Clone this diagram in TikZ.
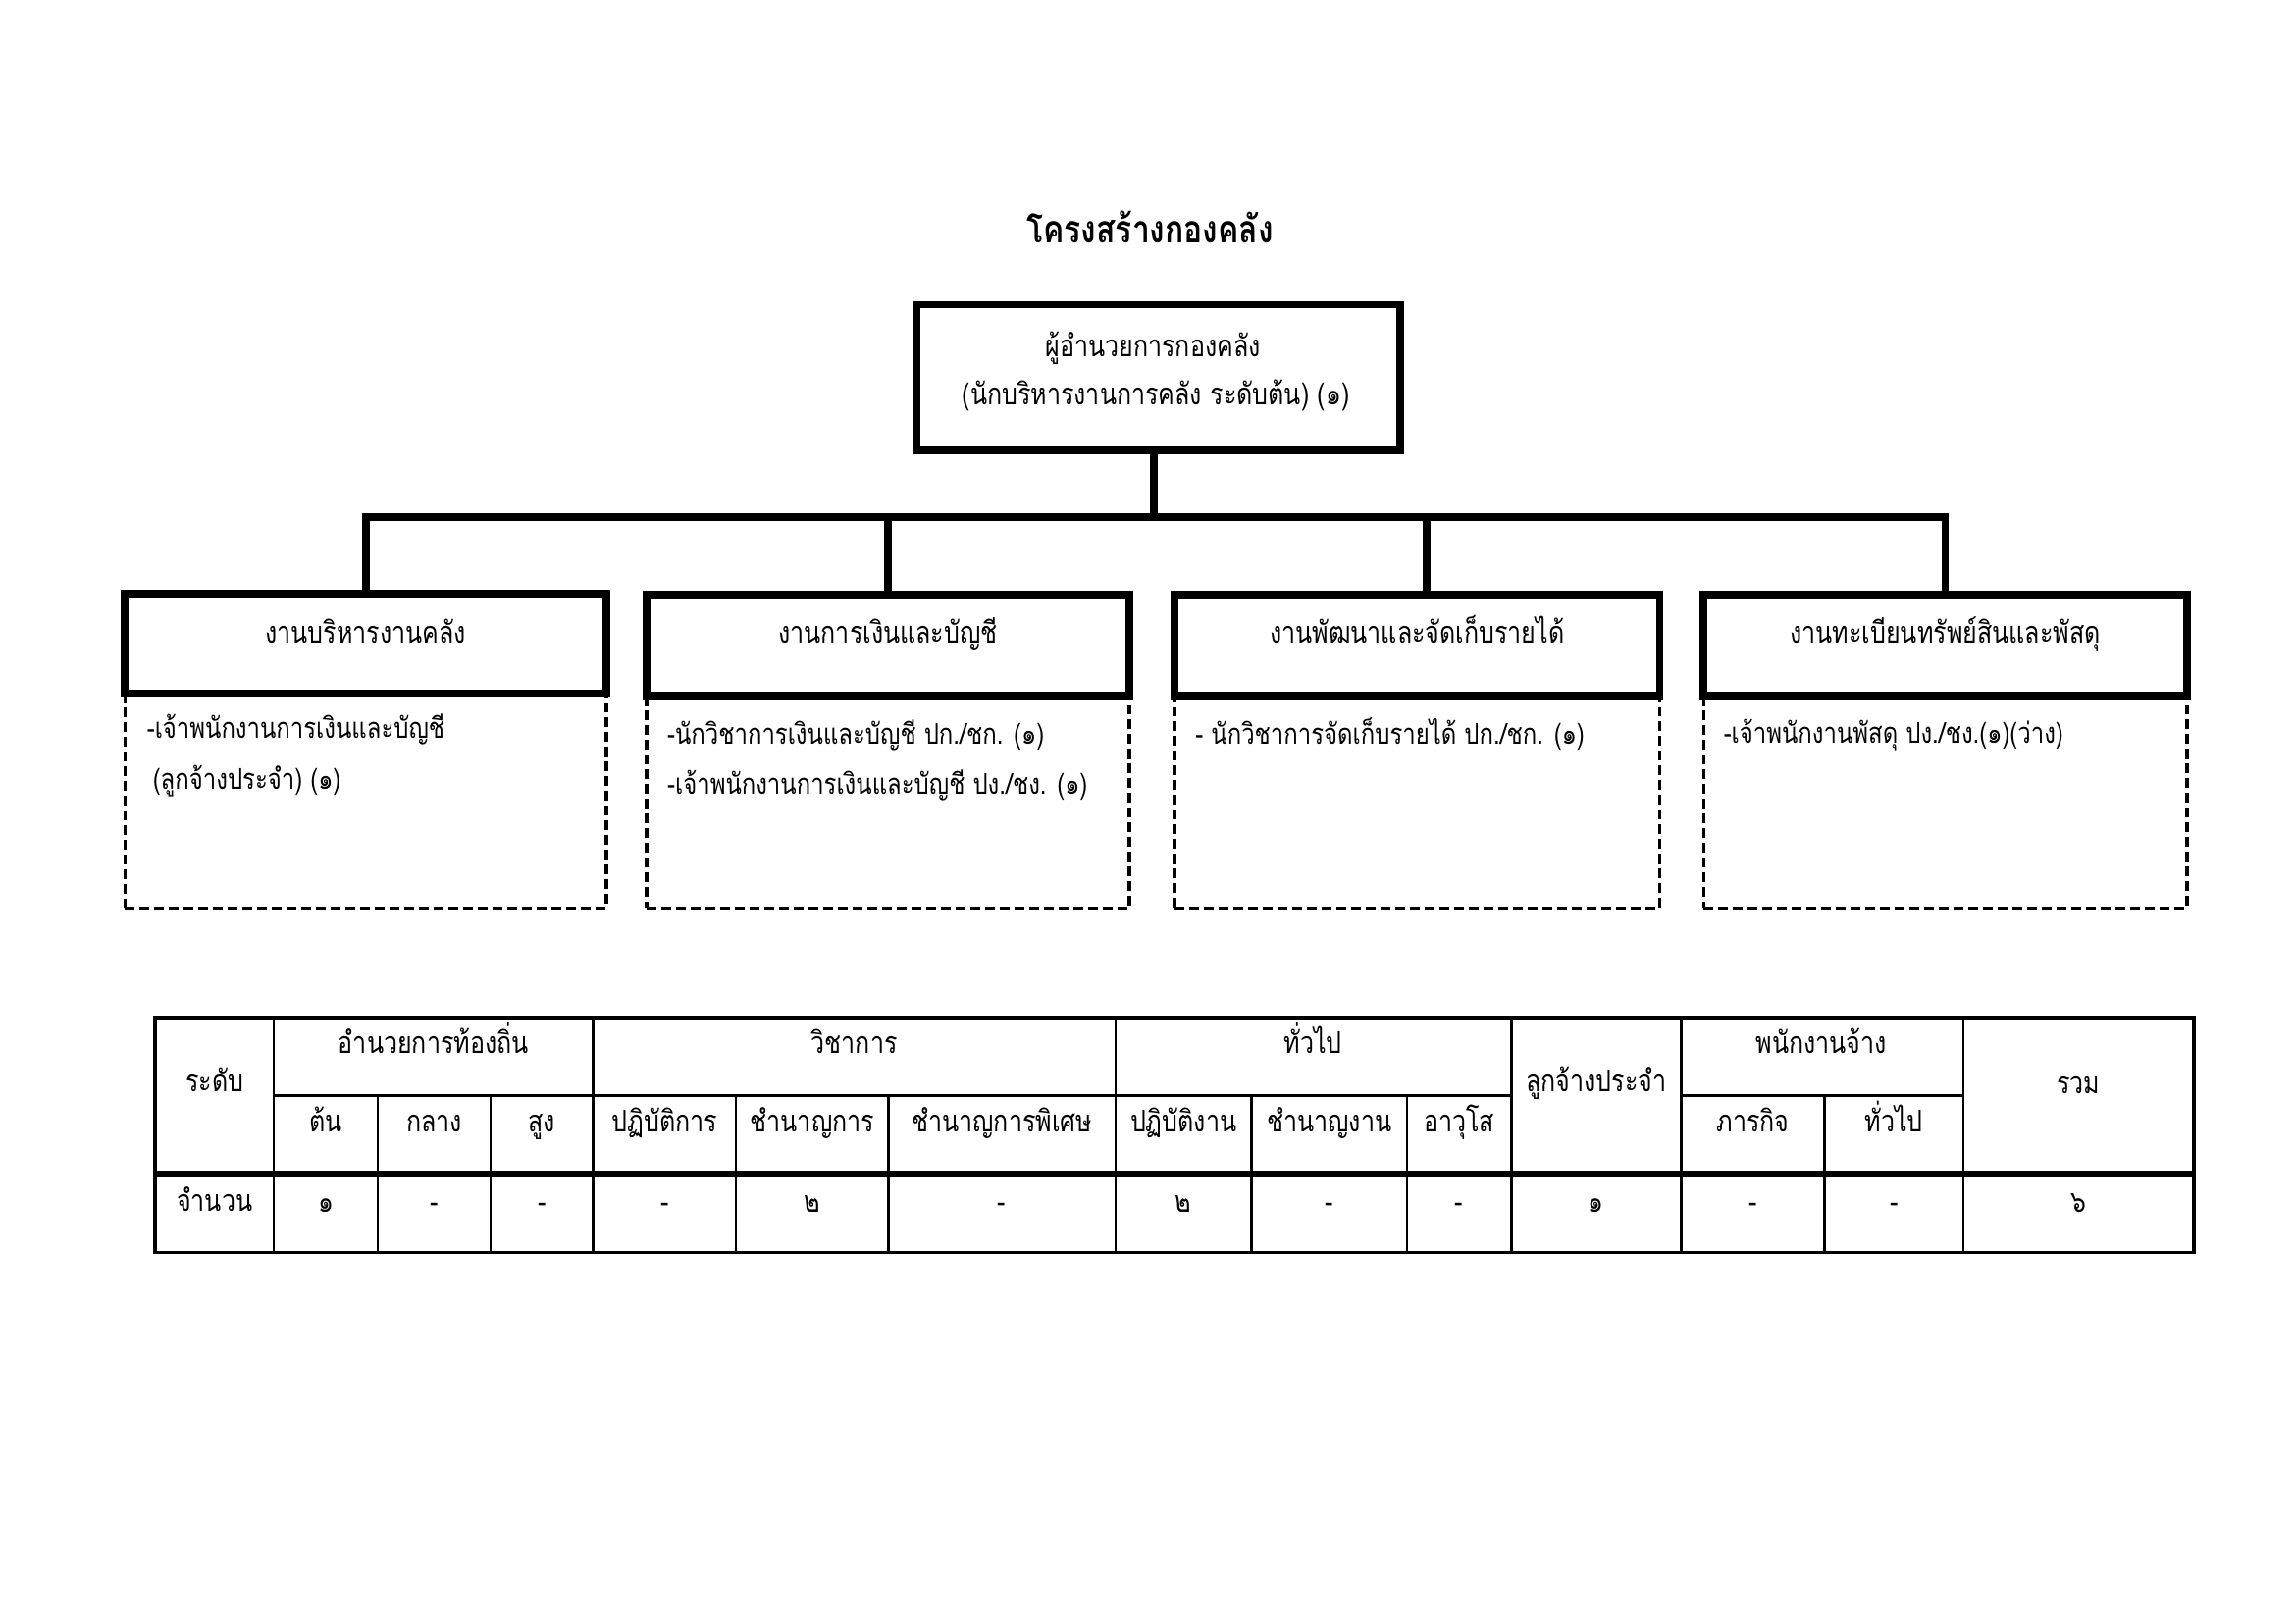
\documentclass[tikz,border=0pt]{standalone}
\usepackage{fontspec}
\newfontfamily\thaifont[Script=Thai,FakeStretch=0.82]{Loma}
\begin{document}
\begin{tikzpicture}[x=0.3582pt,y=-0.3582pt,
  txt/.style={font=\thaifont\fontsize{10.5}{12}\selectfont, inner sep=0pt},
  txtb/.style={font=\thaifont\fontsize{11}{13}\selectfont, inner sep=0pt},
  ttl/.style={font=\thaifont\bfseries\fontsize{14}{16}\selectfont, inner sep=0pt},
  solidbox/.style={draw, line width=2.8pt, fill=white, inner sep=0pt},
  dashbox/.style={draw, line width=1.3pt, dash pattern=on 3.6pt off 1.8pt, inner sep=0pt},
  conn/.style={line width=2.8pt, line join=miter},
  tline/.style={line width=0.9pt},
  tthick/.style={line width=1.9pt}]
\fill[white] (0pt,0pt) rectangle (842.04pt,-595.44pt);
\useasboundingbox (0pt,0pt) rectangle (842.04pt,-595.44pt);

% title
\node[ttl, anchor=mid] (title) at (1178,243) {โครงสร้างกองคลัง};

% top box
\node[solidbox, minimum width=177.3pt, minimum height=53.3pt] (top) at (1186.5,386.5) {};
\node[txtb, anchor=mid] (topl1) at (1181,359) {ผู้อำนวยการกองคลัง};
\node[txtb, anchor=mid] (topl2) at (1184,409) {(นักบริหารงานการคลัง ระดับต้น) (๑)};

% dashed boxes
\node[dashbox, minimum width=176.6pt, minimum height=78.8pt] (d1) at (374.5,820) {};
\node[dashbox, minimum width=177.3pt, minimum height=77.7pt] (d2) at (909.5,821.5) {};
\node[dashbox, minimum width=178.0pt, minimum height=77.7pt] (d3) at (1451.5,821.5) {};
\node[dashbox, minimum width=177.3pt, minimum height=77.7pt] (d4) at (1992.5,821.5) {};

% branch boxes
\node[solidbox, minimum width=176.6pt, minimum height=36.5pt] (b1) at (374.5,659) {};
\node[solidbox, minimum width=177.3pt, minimum height=37.2pt] (b2) at (909.5,661) {};
\node[solidbox, minimum width=178.0pt, minimum height=37.2pt] (b3) at (1451.5,661) {};
\node[solidbox, minimum width=177.3pt, minimum height=37.2pt] (b4) at (1992.5,661) {};

\node[txtb, anchor=mid] (b1t) at (374.5,653) {งานบริหารงานคลัง};
\node[txtb, anchor=mid] (b2t) at (909.5,653) {งานการเงินและบัญชี};
\node[txtb, anchor=mid] (b3t) at (1451.5,653) {งานพัฒนาและจัดเก็บรายได้};
\node[txtb, anchor=mid] (b4t) at (1992.5,653) {งานทะเบียนทรัพย์สินและพัสดุ};

% dashed box texts
\node[txt, anchor=mid west] (d1a) at (150,750) {-เจ้าพนักงานการเงินและบัญชี};
\node[txt, anchor=mid west] (d1b) at (156,802) {(ลูกจ้างประจำ) (๑)};
\node[txt, anchor=mid west] (d2a) at (683,756) {-นักวิชาการเงินและบัญชี ปก./ชก. (๑)};
\node[txt, anchor=mid west] (d2b) at (683,808) {-เจ้าพนักงานการเงินและบัญชี ปง./ชง. (๑)};
\node[txt, anchor=mid west] (d3a) at (1224,756) {- นักวิชาการจัดเก็บรายได้ ปก./ชก. (๑)};
\node[txt, anchor=mid west] (d4a) at (1765,755) {-เจ้าพนักงานพัสดุ ปง./ชง.(๑)(ว่าง)};

% connectors
\coordinate (bus) at (1182,530);
\coordinate (drop3) at (1461,530);
\draw[conn] (top.south -| bus) -- (bus);
\draw[conn] (b1.north) -- (b1.north |- bus) -- (b4.north |- bus) -- (b4.north);
\draw[conn] (b2.north |- bus) -- (b2.north);
\draw[conn] (drop3) -- (drop3 |- b3.north);

% table
\def\rA{1042}\def\rB{1122}\def\rC{1202}\def\rD{1283}
\draw[tline] (280.5,\rB) -- (1548,\rB);
\draw[tline] (1722,\rB) -- (2011,\rB);
\foreach \x in {387,502.5,754,910,1282,1441,1869}
  \draw[tline] (\x,\rB) -- (\x,\rD);
\foreach \x in {280.5,607.5,1142.5,1548,1722,2011}
  \draw[tline] (\x,\rA) -- (\x,\rD);
\draw[tthick] (159,\rC) -- (2247,\rC);
\draw[line width=1.3pt] (159,\rA) rectangle (2247,\rD);

% table header row 1
\node[txtb, anchor=mid] (h1) at (444,1073) {อำนวยการท้องถิ่น};
\node[txtb, anchor=mid] (h2) at (875,1073) {วิชาการ};
\node[txtb, anchor=mid] (h3) at (1345,1073) {ทั่วไป};
\node[txtb, anchor=mid] (h4) at (1865.5,1073) {พนักงานจ้าง};
\node[txtb, anchor=mid] (h0) at (219.75,1112) {ระดับ};
\node[txtb, anchor=mid] (h5) at (1635,1112) {ลูกจ้างประจำ};
\node[txtb, anchor=mid] (h6) at (2129,1114) {รวม};

% header row 2
\node[txtb, anchor=mid] (s1) at (333.75,1153) {ต้น};
\node[txtb, anchor=mid] (s2) at (444.75,1153) {กลาง};
\node[txtb, anchor=mid] (s3) at (555,1153) {สูง};
\node[txtb, anchor=mid] (s4) at (680.75,1153) {ปฏิบัติการ};
\node[txtb, anchor=mid] (s5) at (832,1153) {ชำนาญการ};
\node[txtb, anchor=mid] (s6) at (1026.25,1153) {ชำนาญการพิเศษ};
\node[txtb, anchor=mid] (s7) at (1212.25,1153) {ปฏิบัติงาน};
\node[txtb, anchor=mid] (s8) at (1361.5,1153) {ชำนาญงาน};
\node[txtb, anchor=mid] (s9) at (1494.5,1153) {อาวุโส};
\node[txtb, anchor=mid] (s10) at (1795.5,1153) {ภารกิจ};
\node[txtb, anchor=mid] (s11) at (1940,1153) {ทั่วไป};

% data row
\node[txtb, anchor=mid] (v0) at (219.75,1235) {จำนวน};
\node[txtb, anchor=mid] (v1) at (333.75,1236) {๑};
\node[txtb, anchor=mid] (v2) at (444.75,1236) {-};
\node[txtb, anchor=mid] (v3) at (555,1236) {-};
\node[txtb, anchor=mid] (v4) at (680.75,1236) {-};
\node[txtb, anchor=mid] (v5) at (832,1236) {๒};
\node[txtb, anchor=mid] (v6) at (1026.25,1236) {-};
\node[txtb, anchor=mid] (v7) at (1212.25,1236) {๒};
\node[txtb, anchor=mid] (v8) at (1361.5,1236) {-};
\node[txtb, anchor=mid] (v9) at (1494.5,1236) {-};
\node[txtb, anchor=mid] (v10) at (1635,1236) {๑};
\node[txtb, anchor=mid] (v11) at (1795.5,1236) {-};
\node[txtb, anchor=mid] (v12) at (1940,1236) {-};
\node[txtb, anchor=mid] (v13) at (2129,1236) {๖};
\end{tikzpicture}
\end{document}
